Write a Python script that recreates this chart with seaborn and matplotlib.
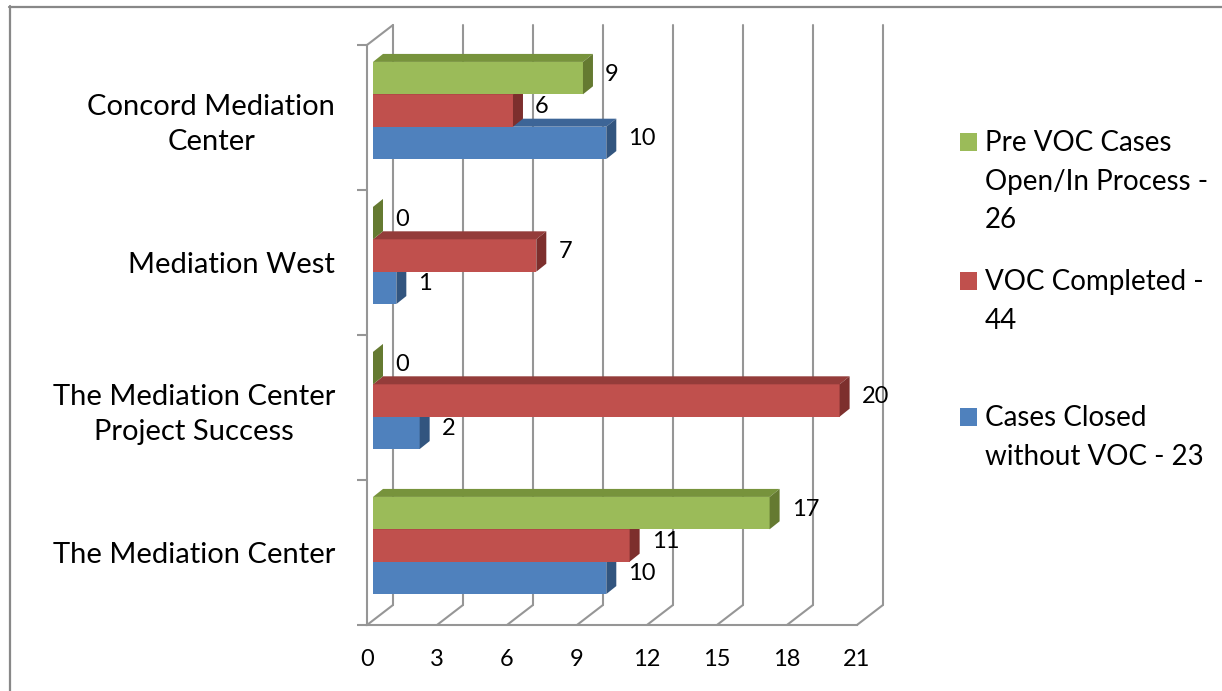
import numpy as np
import pandas as pd
import matplotlib
matplotlib.use("Agg")
import matplotlib.pyplot as plt
import matplotlib.transforms as mtransforms
from matplotlib.patches import Polygon, Rectangle
from matplotlib.lines import Line2D
import seaborn as sns

# ---------------- data ----------------
categories = ["Concord Mediation\nCenter", "Mediation West",
              "The Mediation Center\nProject Success", "The Mediation Center"]
series = ["Pre VOC Cases Open/In Process - 26", "VOC Completed - 44",
          "Cases Closed without VOC - 23"]
legend_labels = ["Pre VOC Cases\nOpen/In Process -\n26", "VOC Completed -\n44",
                 "Cases Closed\nwithout VOC - 23"]
pre_voc_open = [9, 0, 0, 17]
voc_completed = [6, 7, 20, 11]
closed_without_voc = [10, 1, 2, 10]
x_ticks = [0, 3, 6, 9, 12, 15, 18, 21]

# ---------------- style ----------------
front_colors = ["#9BBB59", "#C0504D", "#4F81BD"]
top_colors = ["#77933C", "#943C3A", "#3D6597"]
side_colors = ["#657A31", "#7D2F2D", "#32557F"]
grid_col = "#969696"

W, H = 1222, 691
sns.set_theme(style="white")
plt.rcParams["font.family"] = ["Lato", "DejaVu Sans"]

df = pd.DataFrame({
    "category": categories * 3,
    "series": [series[0]] * 4 + [series[1]] * 4 + [series[2]] * 4,
    "value": pre_voc_open + voc_completed + closed_without_voc,
})

fig = plt.figure(figsize=(W / 100, H / 100), dpi=100)
fig.patch.set_facecolor("white")
ax = fig.add_axes([367 / W, (H - 625) / H, (895 - 367) / W, (625 - 20) / H])
ax.set_facecolor("none")

sns.barplot(data=df, x="value", y="category", hue="series", hue_order=series,
            order=categories, palette=front_colors, orient="h", width=0.67,
            saturation=1, linewidth=0, errorbar=None, legend=False, ax=ax)

px_x = 23.33   # pixels per value unit on front plane
px_y = 145.0   # pixels per category
ax.set_xlim(0, (895 - 367) / px_x)
ax.set_ylim(3.5, -0.5 - (45 - 20) / px_y)

def dx(p):
    return p / px_x

def dy_up(p):
    return -p / px_y   # inverted y axis

# 3D wall / floor
DX, DY = dx(26), dy_up(20)
for k in x_ticks:
    ax.add_line(Line2D([k + DX, k + DX], [3.5 + DY, -0.5 + DY], color=grid_col, lw=1.5, zorder=0.5, clip_on=False))
    ax.add_line(Line2D([k, k + DX], [3.5, 3.5 + DY], color=grid_col, lw=1.5, zorder=0.5, clip_on=False))
ax.add_line(Line2D([0, DX], [-0.5, -0.5 + DY], color=grid_col, lw=1.5, zorder=0.5, clip_on=False))

# bars: shift to mid-depth and add 3D faces
shift = mtransforms.ScaledTranslation(6 / 100, 7 / 100, fig.dpi_scale_trans)
bar_tr = ax.transData + shift
ddx, ddy = dx(10), dy_up(8)
zorders = [5, 4, 3]
for i, cont in enumerate(ax.containers):
    vals = [pre_voc_open, voc_completed, closed_without_voc][i]
    for bar, v in zip(cont.patches, vals):
        x0, y0 = bar.get_x(), bar.get_y()
        w, h = bar.get_width(), bar.get_height()
        ytop = min(y0, y0 + h)
        ybot = max(y0, y0 + h)
        x1 = x0 + w
        bar.set_transform(bar_tr)
        bar.set_zorder(zorders[i])
        top = Polygon([(x0, ytop), (x1, ytop), (x1 + ddx, ytop + ddy), (x0 + ddx, ytop + ddy)],
                      closed=True, facecolor=top_colors[i], edgecolor="none",
                      transform=bar_tr, zorder=zorders[i])
        side = Polygon([(x1, ytop), (x1, ybot), (x1 + ddx, ybot + ddy), (x1 + ddx, ytop + ddy)],
                       closed=True, facecolor=side_colors[i], edgecolor="none",
                       transform=bar_tr, zorder=zorders[i])
        ax.add_patch(top)
        ax.add_patch(side)
        ax.text(x1 + dx(22), (ytop + ybot) / 2 + dy_up(4), f"{v}", transform=bar_tr,
                ha="left", va="center", fontsize=17, color="black", zorder=10)

# axes styling
for s in ["top", "right"]:
    ax.spines[s].set_visible(False)
ax.spines["left"].set_bounds(-0.5, 3.5)
ax.spines["bottom"].set_bounds(0, 21)
for s in ["left", "bottom"]:
    ax.spines[s].set_color(grid_col)
    ax.spines[s].set_linewidth(1.5)
    ax.spines[s].set_zorder(0.6)

ax.set_xticks(x_ticks)
ax.set_xticklabels([str(t) for t in x_ticks])
ax.tick_params(axis="x", length=6, width=1.5, color=grid_col, pad=11, labelsize=17, labelcolor="black")
ax.set_yticks([-0.5, 0.5, 1.5, 2.5, 3.5], minor=True)
ax.tick_params(axis="y", which="major", length=0, pad=23, labelsize=21, labelcolor="black")
ax.tick_params(axis="y", which="minor", length=7, width=1.5, color=grid_col, left=True)
for lab in ax.get_yticklabels():
    lab.set_multialignment("center")
    lab.set_linespacing(1.45)
ax.set_xlabel("")
ax.set_ylabel("")

# legend (manual, handles aligned with first line)
leg_tops = [132, 271, 407]
for lab, col, t in zip(legend_labels, front_colors, leg_tops):
    fig.add_artist(Rectangle((960 / W, 1 - (t + 19) / H), 17 / W, 18 / H,
                             transform=fig.transFigure, facecolor=col, edgecolor="none"))
    fig.text(985 / W, 1 - (t - 2) / H, lab, ha="left", va="top", fontsize=20,
             color="black", linespacing=1.6)

# outer border
fig.add_artist(Line2D([10 / W, 10 / W], [0, 1 - 6 / H], transform=fig.transFigure, color="#888888", lw=1.6))
fig.add_artist(Line2D([9 / W, 1], [1 - 7 / H, 1 - 7 / H], transform=fig.transFigure, color="#888888", lw=1.6))

fig.savefig("out.png", dpi=100, facecolor="white")
